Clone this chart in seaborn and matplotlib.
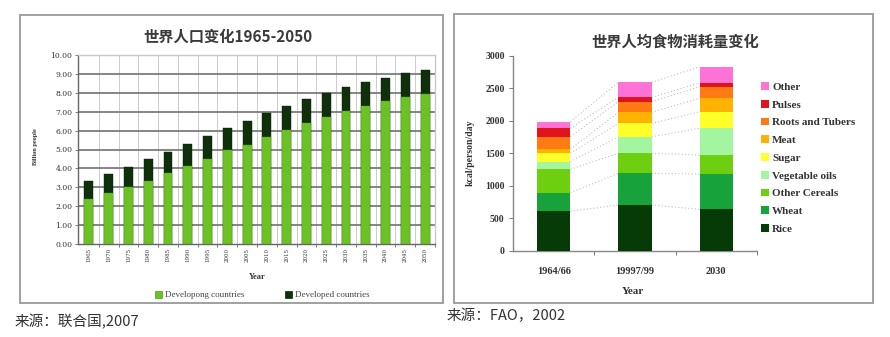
import numpy as np
import pandas as pd
import seaborn as sns
import matplotlib.pyplot as plt
from matplotlib.patches import Rectangle, Patch

# ---- world population, billions ----
years = [1965, 1970, 1975, 1980, 1985, 1990, 1995, 2000, 2005,
         2010, 2015, 2020, 2025, 2030, 2035, 2040, 2045, 2050]
developing = [2.38, 2.69, 3.01, 3.35, 3.75, 4.14, 4.52, 4.95, 5.26,
              5.65, 6.04, 6.39, 6.74, 7.04, 7.31, 7.54, 7.76, 7.96]
developed = [0.97, 1.02, 1.07, 1.14, 1.11, 1.16, 1.20, 1.18, 1.25,
             1.27, 1.27, 1.29, 1.27, 1.29, 1.28, 1.26, 1.27, 1.25]
pop_labels = ["Developong countries", "Developed countries"]

# ---- food consumption, kcal/person/day ----
periods = ["1964/66", "19997/99", "2030"]
food_groups = ["Rice", "Wheat", "Other Cereals", "Vegetable oils", "Sugar",
               "Meat", "Roots and Tubers", "Pulses", "Other"]
rice = [606, 703, 637]
wheat = [286, 487, 543]
other_cereals = [360, 308, 292]
veg_oils = [117, 255, 411]
sugar = [129, 206, 255]
meat = [62, 170, 206]
roots_tubers = [193, 163, 178]
pulses = [130, 67, 62]
other_food = [101, 231, 246]
food_values = [rice, wheat, other_cereals, veg_oils, sugar, meat,
               roots_tubers, pulses, other_food]
food_colors = ["#063a06", "#17a23c", "#6dcf10", "#a3f5a0", "#ffff2a",
               "#ffb300", "#ff7a12", "#e0141c", "#ff72d6"]

sns.set_theme(style="white")
plt.rcParams['font.family'] = ['Noto Sans CJK SC', 'DejaVu Sans']
SERIF = ['Liberation Serif', 'DejaVu Serif']

W, H = 890, 337
fig = plt.figure(figsize=(W / 100, H / 100), dpi=100)
fig.patch.set_facecolor("white")


def fx(px):
    return px / W


def fy(py):
    return 1 - py / H


# panel frames
for x0, y0, x1, y1 in [(20, 15, 443, 303), (454, 14, 873, 303)]:
    fig.patches.append(Rectangle((fx(x0), fy(y1)), fx(x1 - x0), (y1 - y0) / H,
                                 transform=fig.transFigure, fill=False,
                                 edgecolor="#a0a0a0", linewidth=1.4))

# ================= left: population =================
axL = fig.add_axes([fx(78), fy(244), fx(357), 189 / H])
pop = pd.DataFrame({"year": [str(y) for y in years],
                    "developing": developing,
                    "developed": developed})
pop["total"] = pop["developing"] + pop["developed"]

sns.barplot(data=pop, x="year", y="total", color="#10300c", saturation=1,
            width=0.45, errorbar=None, ax=axL, zorder=3,
            edgecolor="#0a200a", linewidth=0.3)
sns.barplot(data=pop, x="year", y="developing", color="#6cc224", saturation=1,
            width=0.45, errorbar=None, ax=axL, zorder=4,
            edgecolor="#4f9a1a", linewidth=0.3)

n = len(years)
axL.set_xlim(-0.55, n - 1 + 0.4)
axL.set_ylim(0, 10)
axL.set_yticks(np.arange(0, 11, 1))
axL.set_yticklabels([f"{v:.2f}" for v in range(11)], fontsize=5.5,
                    family=['DejaVu Serif'], color="#333")
axL.set_xticks(range(n))
axL.set_xticklabels([str(y) for y in years], rotation=90, fontsize=4,
                    family=['DejaVu Serif'], color="#333")
axL.set_xticks(np.arange(0.5, n, 1), minor=True)
axL.tick_params(axis="x", which="major", length=0, pad=3)
axL.tick_params(axis="x", which="minor", length=2, width=0.6,
                color="#666", direction="out", bottom=True)
axL.tick_params(axis="y", length=2, width=0.6, color="#666",
                direction="out", left=True, pad=2)
for v in range(1, 11):
    axL.axhline(v, color="#7c7c7c", lw=1.3, zorder=1)
for x in np.arange(0.5, n - 1, 1):
    axL.axvline(x, color="#cccccc", lw=0.7, zorder=0.5)
axL.set_xlabel("")
axL.set_ylabel("")
for s in ["left", "bottom"]:
    axL.spines[s].set_color("#666")
    axL.spines[s].set_linewidth(1.0)
for s in ["top", "right"]:
    axL.spines[s].set_color("#c8c8c8")
    axL.spines[s].set_linewidth(1.0)

fig.text(fx(228), fy(37), "世界人口变化1965-2050", ha="center", va="center",
         fontsize=11, color="#3a3a3a", fontweight="bold")
fig.text(fx(35), fy(147), "Billion people", rotation=90, ha="center",
         va="center", fontsize=4.5, family=SERIF, fontweight="bold", color="#333")
fig.text(fx(257), fy(277), "Year", ha="center", va="center", fontsize=6,
         family=SERIF, fontweight="bold", color="#333")
axL.legend(handles=[Patch(facecolor="#6cc224", edgecolor="#4f9a1a", lw=0.5),
                    Patch(facecolor="#10300c", edgecolor="#0a200a", lw=0.5)],
           labels=pop_labels, ncol=2, loc="center",
           bbox_to_anchor=(fx(262), fy(295)), bbox_transform=fig.transFigure,
           frameon=False, prop={"family": SERIF, "size": 6.5},
           handlelength=0.8, handleheight=0.8, handletextpad=0.3,
           columnspacing=4.5, labelcolor="#444")

# ================= right: food consumption =================
axR = fig.add_axes([fx(513), fy(250.7), fx(244), 195 / H])
food = pd.DataFrame({"period": periods})
cum = np.zeros(len(periods))
layers = []
for name, vals in zip(food_groups, food_values):
    cum = cum + np.array(vals, dtype=float)
    food[name] = cum
    layers.append(name)

bw = 0.41
# dotted guides joining matching layer boundaries
for name in layers:
    c = food[name].to_numpy()
    for i in range(len(periods) - 1):
        axR.plot([i + bw / 2, i + 1 - bw / 2], [c[i], c[i + 1]], ls=(0, (1, 2)),
                 color="#c0c0c0", lw=0.8, zorder=1)

for name, col in reversed(list(zip(layers, food_colors))):
    sns.barplot(data=food, x="period", y=name, color=col, saturation=1,
                width=bw, errorbar=None, ax=axR, zorder=3, linewidth=0)

axR.set_xlim(-0.5, 2.5)
axR.set_ylim(0, 3000)
axR.set_yticks(np.arange(0, 3001, 500))
axR.set_yticklabels([str(v) for v in range(0, 3001, 500)], fontsize=7,
                    family=SERIF, fontweight="bold", color="#333")
axR.set_xticks(range(len(periods)))
axR.set_xticklabels(periods, fontsize=7.5, family=SERIF, fontweight="bold",
                    color="#333")
axR.set_xticks([0.5, 1.5, 2.5], minor=True)
axR.tick_params(axis="x", which="major", length=0, pad=12)
axR.tick_params(axis="x", which="minor", length=3, width=0.7, color="#777",
                direction="out", bottom=True)
axR.tick_params(axis="y", length=3, width=0.7, color="#777", direction="out",
                left=True, pad=3)
axR.set_xlabel("")
axR.set_ylabel("")
for s in ["top", "right"]:
    axR.spines[s].set_visible(False)
for s in ["left", "bottom"]:
    axR.spines[s].set_color("#888")
    axR.spines[s].set_linewidth(1.0)

fig.text(fx(675), fy(42), "世界人均食物消耗量变化", ha="center", va="center",
         fontsize=11, color="#3a3a3a", fontweight="bold")
fig.text(fx(470), fy(153), "kcal/person/day", rotation=90, ha="center",
         va="center", fontsize=7, family=SERIF, fontweight="bold", color="#333")
fig.text(fx(633), fy(292), "Year", ha="center", va="center", fontsize=8,
         family=SERIF, fontweight="bold", color="#333")

handles = [Patch(facecolor=c, edgecolor="none") for c in food_colors][::-1]
axR.legend(handles=handles, labels=food_groups[::-1], loc="upper left",
           bbox_to_anchor=(fx(761), fy(82)), bbox_transform=fig.transFigure,
           frameon=False, prop={"family": SERIF, "size": 8, "weight": "bold"},
           handlelength=0.7, handleheight=0.7, handletextpad=0.3,
           labelspacing=0.72, borderaxespad=0, borderpad=0, labelcolor="#333")

# sources
fig.text(fx(15), fy(322), "来源：联合国,2007", ha="left", va="center",
         fontsize=10.5, color="#333")
fig.text(fx(447), fy(316), "来源：FAO，2002", ha="left", va="center",
         fontsize=10.5, color="#333")

fig.savefig("out.png", dpi=100, facecolor="white")
